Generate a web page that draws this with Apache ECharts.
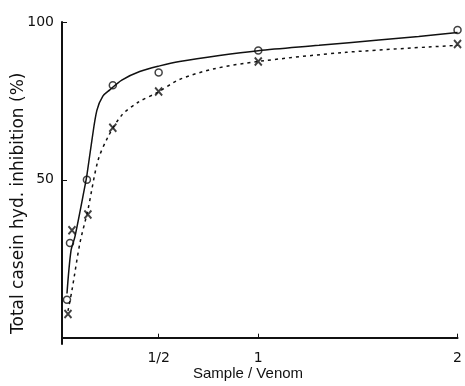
<!DOCTYPE html>
<html lang="en">
<head>
    <meta charset="UTF-8">
    <title>Casein hydrolysis inhibition</title>
    <script src="https://cdn.jsdelivr.net/npm/echarts@6/dist/echarts.min.js"></script>
    <style>
        html, body { margin: 0; padding: 0; background: #fff; }
        #chart { width: 465px; height: 386px; }
    </style>
</head>
<body>
    <div id="chart"></div>
    <script>
        // measured points (sample / venom ratio, % inhibition)
        var circleX = [0.04, 0.055, 0.14, 0.27, 0.5, 1, 2];
        var circleY = [12, 30, 50, 80, 84, 91, 97.5];
        var crossX = [0.045, 0.065, 0.145, 0.27, 0.5, 1, 2];
        var crossY = [7.5, 34, 39, 66.5, 78, 87.5, 93];

        // hand-drawn fitted curves
        var solidX = [0.04, 0.06, 0.08, 0.13, 0.14, 0.165, 0.19, 0.22, 0.255, 0.315, 0.405, 0.505, 0.605, 0.805, 1, 1.305, 1.605, 1.805, 2];
        var solidY = [14, 27.5, 32, 48, 51.5, 62.5, 72, 76.5, 78.5, 81.6, 84.3, 86.1, 87.5, 89.4, 90.9, 92.6, 94.3, 95.4, 96.7];
        var dotX = [0.045, 0.065, 0.105, 0.145, 0.195, 0.245, 0.315, 0.395, 0.495, 0.605, 0.78, 1, 1.44, 2];
        var dotY = [8.5, 15, 30, 40.5, 56, 63.5, 70.5, 74.5, 77.7, 81.8, 85.2, 87.5, 90.4, 92.6];

        var xTicks = [0.5, 1, 2];
        var xTickLabels = { 0.5: '1/2', 1: '1', 2: '2' };
        var yTicks = [50, 100];

        function pairs(xs, ys) {
            return xs.map(function (x, i) { return [x, ys[i]]; });
        }

        var myChart = echarts.init(document.getElementById('chart'));
        var font = 'DejaVu Sans';
        var option = {
            animation: false,
            grid: { left: 62, right: 6, top: 22, bottom: 42 },
            xAxis: {
                type: 'value',
                min: 0.015,
                max: 2,
                splitLine: { show: false },
                axisLine: { lineStyle: { color: '#111', width: 2 } },
                axisTick: { inside: true, length: 4, customValues: xTicks, lineStyle: { color: '#111' } },
                axisLabel: {
                    customValues: xTicks,
                    formatter: function (v) { return xTickLabels[v]; },
                    color: '#111', fontFamily: font, fontSize: 14, margin: 7
                }
            },
            yAxis: {
                type: 'value',
                min: -2,
                max: 100,
                splitLine: { show: false },
                axisLine: { show: true, lineStyle: { color: '#111', width: 2 } },
                axisTick: { show: true, inside: true, length: 5, customValues: yTicks, lineStyle: { color: '#111' } },
                axisLabel: {
                    customValues: yTicks,
                    color: '#111', fontFamily: font, fontSize: 14, margin: 8
                }
            },
            graphic: [
                {
                    type: 'text', left: 193, top: 366,
                    style: { text: 'Sample / Venom', font: '15px Liberation Sans', fill: '#111' }
                },
                {
                    type: 'text', x: 10, y: 334, rotation: Math.PI / 2,
                    style: { text: 'Total casein hyd. inhibition (%)', font: '17px ' + font, fill: '#111' }
                }
            ],
            series: [
                {
                    type: 'line', data: pairs(solidX, solidY), smooth: 0.3,
                    showSymbol: false, lineStyle: { color: '#111', width: 1.5 }
                },
                {
                    type: 'line', data: pairs(dotX, dotY), smooth: 0.3,
                    showSymbol: false, lineStyle: { color: '#111', width: 1.5, type: [3, 4] }
                },
                {
                    type: 'scatter', data: pairs(circleX, circleY), symbol: 'circle', symbolSize: 7,
                    itemStyle: { color: '#fff', borderColor: '#111', borderWidth: 1.5 }
                },
                {
                    type: 'scatter', data: pairs(crossX, crossY),
                    symbol: 'path://M0,0L10,10M10,0L0,10', symbolSize: [7, 8],
                    itemStyle: { color: 'none', borderColor: '#111', borderWidth: 2 }
                }
            ]
        };
        myChart.setOption(option);
    </script>
</body>
</html>
